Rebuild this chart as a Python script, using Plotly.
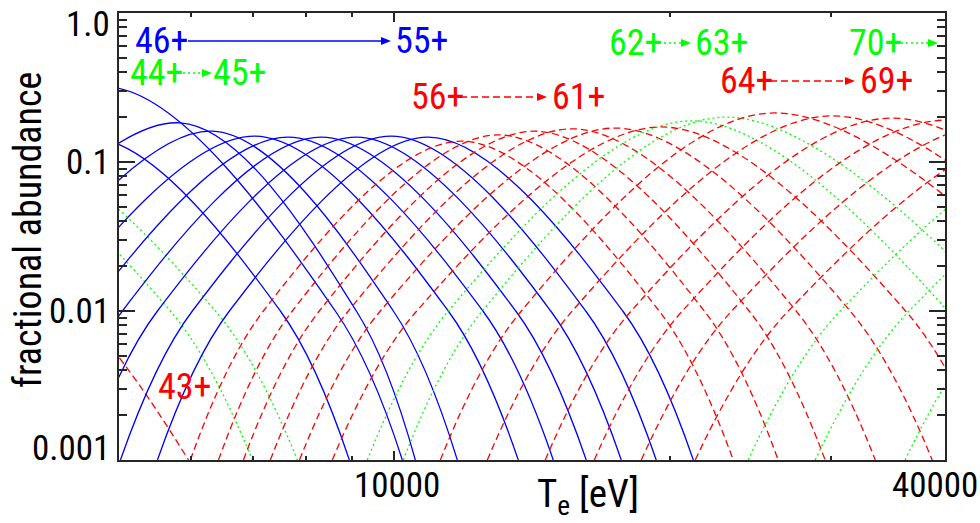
import plotly.graph_objects as go
import math

# Tungsten ionisation balance: fractional abundance of each charge state vs Te.
# Each stage: Te [eV] at 0.001, 0.01, peak, 0.01, 0.001 (rising and falling sides)
te_43 = [2090, 2778, 3528, 4481, 5955]
ab_43 = [0.001, 0.01, 0.0185, 0.01, 0.001]
te_44 = [1577, 1939, 3321, 5690, 6995]
ab_44 = [0.001, 0.01, 0.124, 0.01, 0.001]
te_45 = [1680, 2064, 3627, 6374, 7834]
ab_45 = [0.001, 0.01, 0.138, 0.01, 0.001]
te_46 = [2289, 2709, 4833, 8620, 10203]
ab_46 = [0.001, 0.01, 0.319, 0.01, 0.001]
te_47 = [2425, 2885, 4654, 7506, 8929]
ab_47 = [0.001, 0.01, 0.145, 0.01, 0.001]
te_48 = [2675, 3255, 5836, 9088, 10543]
ab_48 = [0.001, 0.01, 0.183, 0.01, 0.001]
te_49 = [3103, 3734, 6326, 9975, 11718]
ab_49 = [0.001, 0.01, 0.161, 0.01, 0.001]
te_50 = [3475, 4187, 7049, 11455, 13663]
ab_50 = [0.001, 0.01, 0.149, 0.01, 0.001]
te_51 = [3844, 4619, 7659, 12497, 14920]
ab_51 = [0.001, 0.01, 0.147, 0.01, 0.001]
te_52 = [4207, 5043, 8324, 13577, 16211]
ab_52 = [0.001, 0.01, 0.147, 0.01, 0.001]
te_53 = [4595, 5508, 9088, 14826, 17706]
ab_53 = [0.001, 0.01, 0.147, 0.01, 0.001]
te_54 = [5018, 6014, 9925, 16192, 19335]
ab_54 = [0.001, 0.01, 0.149, 0.01, 0.001]
te_55 = [5508, 6602, 10893, 17772, 21228]
ab_55 = [0.001, 0.01, 0.147, 0.01, 0.001]
te_56 = [5984, 7192, 11838, 19480, 23470]
ab_56 = [0.001, 0.01, 0.138, 0.01, 0.001]
te_57 = [6423, 7735, 12990, 21820, 26280]
ab_57 = [0.001, 0.01, 0.152, 0.01, 0.001]
te_58 = [6839, 8279, 14220, 24430, 29580]
ab_58 = [0.001, 0.01, 0.161, 0.01, 0.001]
te_59 = [7319, 8907, 15650, 27500, 33560]
ab_59 = [0.001, 0.01, 0.167, 0.01, 0.001]
te_60 = [7876, 9654, 17440, 31500, 38730]
ab_60 = [0.001, 0.01, 0.169, 0.01, 0.001]
te_61 = [8554, 10580, 19580, 36220, 44810]
ab_61 = [0.001, 0.01, 0.172, 0.01, 0.001]
te_62 = [9343, 11455, 21070, 40270, 50060]
ab_62 = [0.001, 0.01, 0.189, 0.01, 0.001]
te_63 = [10229, 12480, 22830, 46470, 58810]
ab_63 = [0.001, 0.01, 0.200, 0.01, 0.001]
te_64 = [11228, 13767, 25760, 54950, 70130]
ab_64 = [0.001, 0.01, 0.213, 0.01, 0.001]
te_65 = [12637, 15650, 29960, 61220, 77350]
ab_65 = [0.001, 0.01, 0.204, 0.01, 0.001]
te_66 = [14622, 18155, 34840, 70130, 88420]
ab_66 = [0.001, 0.01, 0.197, 0.01, 0.001]
te_67 = [16543, 20650, 40020, 81970, 104100]
ab_67 = [0.001, 0.01, 0.191, 0.01, 0.001]
te_68 = [18620, 23380, 45950, 95330, 122600]
ab_68 = [0.001, 0.01, 0.186, 0.01, 0.001]
te_69 = [21330, 26960, 53450, 111400, 142600]
ab_69 = [0.001, 0.01, 0.180, 0.01, 0.001]
te_70 = [24370, 30720, 60600, 122600, 153800]
ab_70 = [0.001, 0.01, 0.177, 0.01, 0.001]
te_71 = [28850, 36540, 72280, 146200, 183400]
ab_71 = [0.001, 0.01, 0.169, 0.01, 0.001]
te_72 = [36180, 45950, 90650, 178800, 227100]
ab_72 = [0.001, 0.01, 0.164, 0.01, 0.001]

x_major = [10000, 40000]
x_minor = [6000, 7000, 8000, 9000, 20000, 30000]
y_major = [0.001, 0.01, 0.1, 1.0]
y_minor = [m * d for d in (0.001, 0.01, 0.1) for m in range(2, 10)]

BLUE, RED, GREEN = "#0000ff", "#ff0000", "#00ff00"
FONT = "Liberation Sans Narrow, Arial Narrow, Roboto Condensed, Liberation Sans, sans-serif"
AXC = "#262626"
DASH, DOT = "7px,4px", "2px,3px"

stages = {
    43: (te_43, ab_43), 44: (te_44, ab_44), 45: (te_45, ab_45), 46: (te_46, ab_46),
    47: (te_47, ab_47), 48: (te_48, ab_48), 49: (te_49, ab_49), 50: (te_50, ab_50),
    51: (te_51, ab_51), 52: (te_52, ab_52), 53: (te_53, ab_53), 54: (te_54, ab_54),
    55: (te_55, ab_55), 56: (te_56, ab_56), 57: (te_57, ab_57), 58: (te_58, ab_58),
    59: (te_59, ab_59), 60: (te_60, ab_60), 61: (te_61, ab_61), 62: (te_62, ab_62),
    63: (te_63, ab_63), 64: (te_64, ab_64), 65: (te_65, ab_65), 66: (te_66, ab_66),
    67: (te_67, ab_67), 68: (te_68, ab_68), 69: (te_69, ab_69), 70: (te_70, ab_70),
    71: (te_71, ab_71), 72: (te_72, ab_72),
}


def style(q):
    if 46 <= q <= 55:
        return BLUE, "solid"
    if q in (44, 45, 62, 63) or q >= 70:
        return GREEN, DOT
    return RED, DASH


fig = go.Figure()
for q, (te, ab) in stages.items():
    color, dash = style(q)
    fig.add_trace(go.Scatter(
        x=te, y=ab, mode="lines", name=f"{q}+",
        line=dict(color=color, width=1.3, dash=dash, shape="spline",
                  smoothing=1.0, simplify=False),
        hoverinfo="skip"))

# plot-area geometry (pixels) used to place labels
X0, X1, Y0, Y1 = 119, 945, 13, 460


def px(x):
    return (x - X0) / (X1 - X0)


def py(y):
    return (Y1 - y) / (Y1 - Y0)


annotations = []
shapes = []


def label(text, x, y, color, size=36, anchor="left"):
    annotations.append(dict(text=text, x=px(x), y=py(y), xref="paper", yref="paper",
                            xanchor=anchor, yanchor="middle", showarrow=False,
                            font=dict(size=size, color=color, family=FONT)))


def arrow(x_from, x_to, y, color, dash):
    head = 10
    shapes.append(dict(type="line", xref="paper", yref="paper",
                       x0=px(x_from), x1=px(x_to - head), y0=py(y), y1=py(y),
                       line=dict(color=color, width=1.5, dash=dash)))
    path = (f"M {px(x_to)},{py(y)} L {px(x_to - head)},{py(y - 4)} "
            f"L {px(x_to - head)},{py(y + 4)} Z")
    shapes.append(dict(type="path", xref="paper", yref="paper", path=path,
                       fillcolor=color, line=dict(width=0)))


label("46+", 133, 41, BLUE)
arrow(188, 391, 41, BLUE, "solid")
label("55+", 393, 41, BLUE)

label("44+", 128, 73, GREEN)
arrow(178, 212, 73, GREEN, DOT)
label("45+", 211, 73, GREEN)

label("56+", 409, 97, RED)
arrow(460, 547, 97, RED, DASH)
label("61+", 550, 97, RED)

label("62+", 607, 43, GREEN)
arrow(659, 691, 43, GREEN, DOT)
label("63+", 693, 43, GREEN)

label("64+", 718, 81, RED)
arrow(770, 855, 81, RED, DASH)
label("69+", 858, 81, RED)

label("70+", 847, 43, GREEN)
arrow(901, 938, 43, GREEN, DOT)

label("43+", 156, 387, RED)

# tick labels
for txt, y in (("1.0", 25), ("0.1", 162), ("0.01", 311), ("0.001", 448)):
    label(txt, 112, y, "black", size=35, anchor="right")
for txt, x in (("10000", 397), ("40000", 935)):
    label(txt, x, 485, "black", size=35, anchor="center")

# axis titles
annotations.append(dict(text="fractional abundance", x=px(28), y=py(230), xref="paper",
                        yref="paper", xanchor="center", yanchor="middle", textangle=-90,
                        showarrow=False, font=dict(size=38, color="black", family=FONT)))
annotations.append(dict(text="T<sub>e</sub> [eV]", x=px(588), y=py(497), xref="paper",
                        yref="paper", xanchor="center", yanchor="middle",
                        showarrow=False, font=dict(size=39, color="black", family=FONT)))

axis_common = dict(showgrid=False, zeroline=False, showline=True, linecolor=AXC,
                   linewidth=2, mirror="ticks", ticks="inside", tickcolor=AXC,
                   tickwidth=1.5, showticklabels=False)

fig.update_layout(
    width=980, height=523,
    margin=dict(l=X0, r=980 - X1, t=Y0, b=523 - Y1),
    paper_bgcolor="white", plot_bgcolor="white",
    showlegend=False,
    font=dict(family=FONT, color="black"),
    xaxis=dict(type="log", range=[math.log10(5000), math.log10(40000)],
               tickvals=x_major, ticklen=9,
               minor=dict(tickvals=x_minor, ticks="inside", ticklen=4,
                          tickcolor=AXC, tickwidth=1.5),
               **axis_common),
    yaxis=dict(type="log", range=[-3, 0], tickvals=y_major, ticklen=16,
               minor=dict(tickvals=y_minor, ticks="inside", ticklen=8,
                          tickcolor=AXC, tickwidth=1.5),
               **axis_common),
    annotations=annotations,
    shapes=shapes,
)

fig.write_html("out.html")
